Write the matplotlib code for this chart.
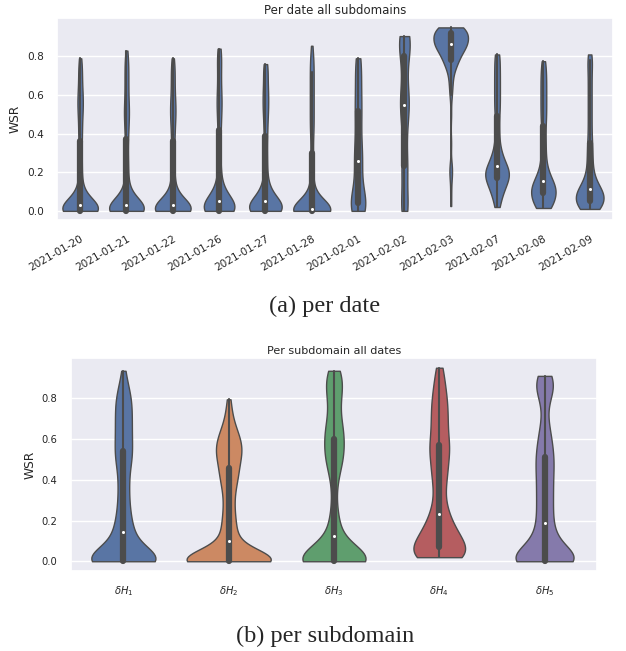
import numpy as np
import pandas as pd
import seaborn as sns
import matplotlib.pyplot as plt

# per date: sampled WSR values and how often they occur (read from the shapes)
dates = ['2021-01-20', '2021-01-21', '2021-01-22', '2021-01-26', '2021-01-27', '2021-01-28',
         '2021-02-01', '2021-02-02', '2021-02-03', '2021-02-07', '2021-02-08', '2021-02-09']

d0120_v = [0.0, 0.02, 0.03, 0.05, 0.08, 0.11, 0.15, 0.19, 0.24, 0.28, 0.32, 0.36,
           0.40, 0.44, 0.48, 0.52, 0.56, 0.60, 0.64, 0.68, 0.72, 0.76, 0.79]
d0120_c = [35, 10, 8, 5, 4, 3, 2, 2, 2, 2, 1, 2, 2, 2, 2, 3, 3, 3, 2, 2, 2, 2, 1]
d0121_v = [0.0, 0.02, 0.03, 0.05, 0.08, 0.11, 0.15, 0.19, 0.24, 0.28, 0.33, 0.37,
           0.41, 0.45, 0.49, 0.53, 0.57, 0.61, 0.65, 0.69, 0.73, 0.77, 0.80, 0.83]
d0121_c = [35, 10, 8, 5, 4, 3, 2, 2, 2, 2, 1, 2, 2, 2, 3, 3, 2, 2, 2, 2, 2, 2, 1, 1]
d0122_v = [0.0, 0.02, 0.03, 0.05, 0.08, 0.11, 0.15, 0.19, 0.24, 0.28, 0.32, 0.36,
           0.40, 0.44, 0.48, 0.52, 0.56, 0.60, 0.64, 0.68, 0.72, 0.76, 0.79]
d0122_c = [35, 10, 8, 5, 4, 3, 2, 2, 2, 2, 1, 2, 2, 2, 3, 3, 3, 2, 2, 2, 2, 2, 1]
d0126_v = [0.0, 0.02, 0.04, 0.05, 0.07, 0.10, 0.13, 0.16, 0.20, 0.25, 0.30, 0.35, 0.39, 0.42,
           0.46, 0.50, 0.54, 0.58, 0.62, 0.66, 0.70, 0.74, 0.78, 0.81, 0.84]
d0126_c = [28, 10, 8, 6, 5, 4, 3, 2, 2, 2, 2, 1, 1, 2, 2, 2, 3, 3, 2, 2, 2, 2, 2, 2, 2]
d0127_v = [0.0, 0.02, 0.04, 0.05, 0.07, 0.10, 0.13, 0.16, 0.20, 0.25, 0.29, 0.33, 0.36, 0.39,
           0.43, 0.47, 0.51, 0.55, 0.59, 0.63, 0.67, 0.71, 0.74, 0.76]
d0127_c = [28, 10, 8, 6, 5, 4, 3, 2, 2, 2, 2, 1, 1, 2, 2, 2, 3, 3, 3, 3, 2, 2, 2, 2]
d0128_v = [0.0, 0.01, 0.03, 0.06, 0.09, 0.13, 0.17, 0.22, 0.26, 0.29, 0.32,
           0.36, 0.40, 0.44, 0.48, 0.52, 0.56, 0.60, 0.64, 0.68, 0.72, 0.76, 0.80, 0.855]
d0128_c = [42, 13, 5, 4, 3, 2, 2, 1, 2, 1, 1, 1, 2, 2, 2, 2, 2, 2, 2, 2, 2, 2, 2, 1]
d0201_v = [0.0, 0.01, 0.02, 0.035, 0.045, 0.10, 0.16, 0.25, 0.27, 0.34, 0.42, 0.50,
           0.56, 0.64, 0.72, 0.79]
d0201_c = [1, 1, 1, 1, 1, 1, 1, 1, 1, 1, 1, 1, 1, 1, 1, 1]
d0202_v = [0.0, 0.01, 0.03, 0.06, 0.17, 0.21, 0.23, 0.30, 0.37, 0.44, 0.49, 0.53, 0.55,
           0.57, 0.60, 0.64, 0.70, 0.78, 0.80, 0.84, 0.87, 0.89, 0.90, 0.905]
d0202_c = [1, 1, 1, 1, 1, 1, 1, 1, 1, 1, 1, 1, 1, 1, 1, 1, 1, 1, 1, 1, 1, 1, 1, 2]
d0203_v = [0.025, 0.10, 0.18, 0.23, 0.35, 0.50, 0.60, 0.66, 0.72, 0.76, 0.78, 0.80, 0.83,
           0.85, 0.865, 0.88, 0.90, 0.92, 0.94, 0.95]
d0203_c = [1, 1, 2, 2, 1, 1, 2, 3, 4, 5, 4, 6, 8, 9, 6, 9, 9, 8, 10, 9]
d0207_v = [0.02, 0.05, 0.09, 0.12, 0.15, 0.18, 0.21, 0.25, 0.29, 0.34, 0.40, 0.44, 0.48,
           0.52, 0.56, 0.60, 0.64, 0.68, 0.72, 0.76, 0.81]
d0207_c = [3, 3, 5, 7, 7, 12, 13, 8, 6, 4, 3, 2, 2, 3, 3, 3, 3, 3, 3, 3, 4]
d0208_v = [0.015, 0.04, 0.07, 0.10, 0.12, 0.14, 0.17, 0.20, 0.25, 0.30, 0.35, 0.39, 0.43,
           0.47, 0.51, 0.55, 0.59, 0.63, 0.67, 0.71, 0.75, 0.775]
d0208_c = [8, 8, 9, 10, 8, 7, 6, 5, 4, 3, 3, 2, 2, 3, 3, 3, 3, 3, 3, 3, 2, 2]
d0209_v = [0.01, 0.03, 0.05, 0.07, 0.09, 0.10, 0.13, 0.16, 0.20, 0.25, 0.30, 0.34,
           0.38, 0.42, 0.46, 0.50, 0.54, 0.58, 0.62, 0.66, 0.70, 0.74, 0.78, 0.81]
d0209_c = [10, 8, 8, 8, 8, 8, 6, 5, 4, 4, 3, 3, 2, 2, 2, 2, 2, 2, 2, 2, 2, 2, 3, 2]

date_values = [d0120_v, d0121_v, d0122_v, d0126_v, d0127_v, d0128_v,
               d0201_v, d0202_v, d0203_v, d0207_v, d0208_v, d0209_v]
date_counts = [d0120_c, d0121_c, d0122_c, d0126_c, d0127_c, d0128_c,
               d0201_c, d0202_c, d0203_c, d0207_c, d0208_c, d0209_c]

# per subdomain
subdomains = [r'$\delta H_1$', r'$\delta H_2$', r'$\delta H_3$', r'$\delta H_4$', r'$\delta H_5$']

h1_v = [0.0, 0.02, 0.04, 0.07, 0.10, 0.13, 0.145, 0.17, 0.20, 0.23, 0.26, 0.30, 0.34, 0.38,
        0.42, 0.46, 0.50, 0.53, 0.57, 0.61, 0.65, 0.69, 0.73, 0.77, 0.81, 0.85, 0.89, 0.935]
h1_c = [30, 6, 4, 3, 3, 3, 2, 2, 2, 2, 2, 2, 2, 2, 2, 2, 3, 3, 3, 3, 3, 3, 3, 3, 3, 2, 1, 1]
h2_v = [0.0, 0.02, 0.04, 0.07, 0.10, 0.13, 0.16, 0.19, 0.22, 0.26, 0.30, 0.34, 0.38, 0.42,
        0.45, 0.49, 0.53, 0.57, 0.61, 0.65, 0.70, 0.75, 0.795]
h2_c = [36, 6, 4, 3, 3, 2, 2, 2, 2, 2, 2, 2, 3, 3, 3, 4, 5, 5, 4, 3, 2, 1, 1]
h3_v = [0.0, 0.02, 0.04, 0.07, 0.105, 0.14, 0.18, 0.22, 0.27, 0.32, 0.37, 0.42, 0.46, 0.50,
        0.54, 0.59, 0.63, 0.67, 0.71, 0.75, 0.79, 0.83, 0.87, 0.90, 0.935]
h3_c = [33, 7, 4, 3, 3, 2, 2, 2, 1, 1, 1, 2, 2, 4, 4, 4, 4, 3, 2, 2, 2, 3, 3, 3, 3]
h4_v = [0.02, 0.04, 0.07, 0.10, 0.13, 0.16, 0.19, 0.215, 0.25, 0.29, 0.33, 0.37, 0.41, 0.45,
        0.49, 0.53, 0.56, 0.60, 0.64, 0.68, 0.72, 0.76, 0.80, 0.85, 0.90, 0.95]
h4_c = [14, 7, 6, 7, 6, 4, 3, 3, 3, 2, 2, 2, 3, 3, 3, 3, 4, 3, 3, 3, 3, 3, 3, 3, 2, 2]
h5_v = [0.0, 0.02, 0.05, 0.08, 0.11, 0.14, 0.17, 0.19, 0.23, 0.27, 0.31, 0.35, 0.39, 0.43,
        0.47, 0.50, 0.54, 0.58, 0.62, 0.66, 0.70, 0.75, 0.80, 0.84, 0.87, 0.91]
h5_c = [26, 6, 5, 4, 3, 3, 2, 2, 3, 3, 3, 3, 3, 3, 3, 3, 3, 3, 2, 2, 1, 1, 2, 3, 4, 4]

sub_values = [h1_v, h2_v, h3_v, h4_v, h5_v]
sub_counts = [h1_c, h2_c, h3_c, h4_c, h5_c]


def make_frame(names, values, counts, key):
    rows = []
    for name, v, c in zip(names, values, counts):
        for w in np.repeat(v, c):
            rows.append((name, w))
    return pd.DataFrame(rows, columns=[key, 'WSR'])


def shrink_median_dots(ax):
    for ln in ax.lines:
        if ln.get_marker() == 'o':
            ln.set_markersize(2.2)
            ln.set_markeredgewidth(0)


df_dates = make_frame(dates, date_values, date_counts, 'date')
df_subs = make_frame(subdomains, sub_values, sub_counts, 'subdomain')

sns.set_theme(style='darkgrid')
fig = plt.figure(figsize=(6.26, 6.51), dpi=100)

inner = dict(marker='o')

ax1 = fig.add_axes([0.091, 0.662, 0.888, 0.310])
sns.violinplot(data=df_dates, x='date', y='WSR', cut=0, bw_adjust=0.5,
               color=sns.color_palette('deep')[0], linewidth=1, inner_kws=inner, ax=ax1)
shrink_median_dots(ax1)
ax1.set_title('Per date all subdomains', fontsize=8.5, pad=3)
ax1.set_xlabel('')
ax1.set_ylabel('WSR', fontsize=8.8)
ax1.tick_params(axis='y', labelsize=7.6)
ax1.tick_params(axis='x', labelsize=7.6)
plt.setp(ax1.get_xticklabels(), rotation=30, ha='right', rotation_mode='anchor')

ax2 = fig.add_axes([0.113, 0.123, 0.841, 0.327])
sns.violinplot(data=df_subs, x='subdomain', y='WSR', hue='subdomain', palette='deep',
               legend=False, cut=0, bw_adjust=0.5, common_norm=True, linewidth=1,
               inner_kws=inner, ax=ax2)
shrink_median_dots(ax2)
ax2.set_title('Per subdomain all dates', fontsize=8, pad=3)
ax2.set_xlabel('')
ax2.set_ylabel('WSR', fontsize=8.8)
ax2.tick_params(axis='both', labelsize=7.2)

fig.text(0.519, 0.530, '(a) per date', ha='center', va='center',
         family='Liberation Serif', fontsize=17.5)
fig.text(0.519, 0.023, '(b) per subdomain', ha='center', va='center',
         family='Liberation Serif', fontsize=17.5)

fig.savefig('out.png', dpi=100)
